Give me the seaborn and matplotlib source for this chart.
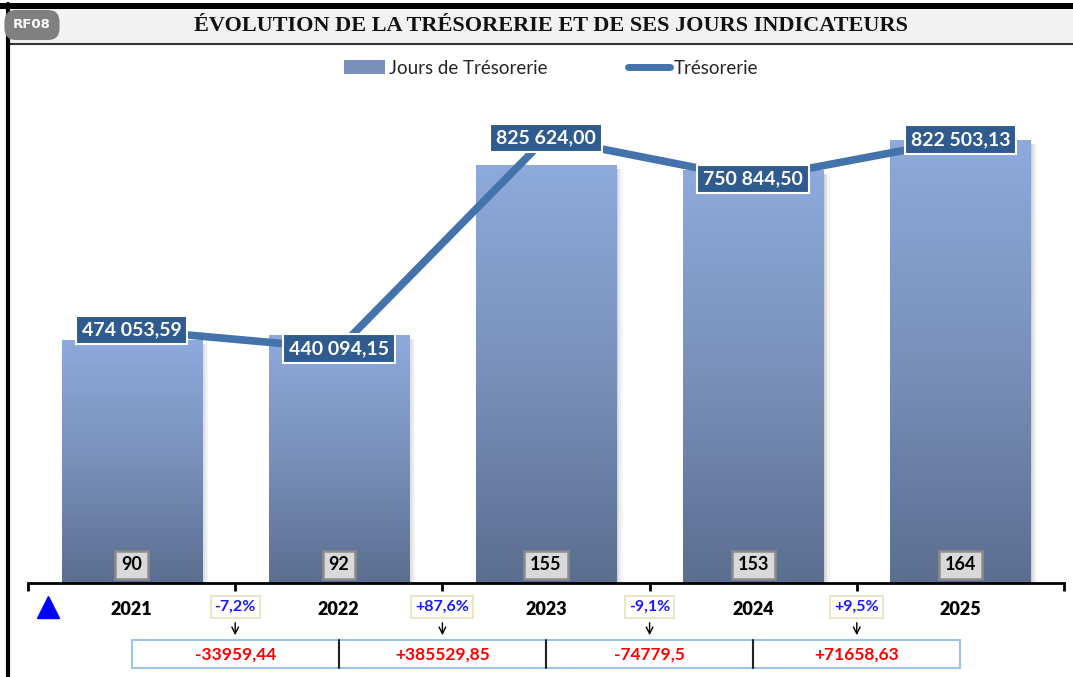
import numpy as np
import pandas as pd
import seaborn as sns
from matplotlib import pyplot as plt
from matplotlib import transforms
from matplotlib.colors import LinearSegmentedColormap
from matplotlib.lines import Line2D
from matplotlib.patches import Patch, Rectangle

years = ["2021", "2022", "2023", "2024", "2025"]
jours = [90, 92, 155, 153, 164]
tresorerie = [474053.59, 440094.15, 825624.00, 750844.50, 822503.13]

TITLE = "ÉVOLUTION DE LA TRÉSORERIE ET DE SES JOURS INDICATEURS"
BAR_TOP = "#8eaadc"
BAR_BOTTOM = "#5b6e90"
LINE_COLOR = "#4472aa"
LABEL_BG = "#2f5b8f"

sns.set_theme(style="white")
plt.rcParams["font.family"] = ["Lato", "DejaVu Sans"]

W, H = 1073, 677
fig = plt.figure(figsize=(W / 100, H / 100), dpi=100)


def fx(px):
    return px / W


def fy(py):
    return 1 - py / H


# ---- frame and title band
fig.add_artist(Rectangle((fx(8), fy(44)), fx(W - 8), fy(9) - fy(44),
                         transform=fig.transFigure, facecolor="#f2f2f2",
                         edgecolor="none"))
fig.add_artist(Rectangle((0, fy(9)), 1, fy(3) - fy(9), transform=fig.transFigure,
                         facecolor="black", edgecolor="none"))
fig.add_artist(Line2D([fx(8), 1], [fy(44), fy(44)], transform=fig.transFigure,
                      color="#333333", lw=1.5))
fig.add_artist(Line2D([fx(8), fx(8)], [0, fy(4)], transform=fig.transFigure,
                      color="black", lw=3))
fig.text(fx(32), fy(25), "RF08", color="white", fontsize=9.5, fontweight="bold",
         ha="center", va="center", family=["Liberation Sans Narrow", "DejaVu Sans"],
         bbox=dict(boxstyle="round,pad=0.65,rounding_size=0.9",
                   facecolor="#808080", edgecolor="none"))
fig.text(fx(551), fy(26), TITLE, fontsize=16, fontweight="bold", ha="center",
         va="center", family=["Liberation Serif", "DejaVu Serif"], color="#111111")

# ---- main axes
ax = fig.add_axes([fx(28), fy(583), fx(1064) - fx(28), fy(97) - fy(583)])
df = pd.DataFrame({"annee": years, "jours": jours})
sns.barplot(data=df, x="annee", y="jours", ax=ax, width=0.676, color=BAR_TOP,
            saturation=1, zorder=2)

cmap = LinearSegmentedColormap.from_list("bar", [BAR_BOTTOM, "#7890ba", BAR_TOP])
grad = np.linspace(0, 1, 256).reshape(-1, 1)
for p in list(ax.patches):
    x0, w, h = p.get_x(), p.get_width(), p.get_height()
    im = ax.imshow(grad, extent=[x0, x0 + w, 0, h], origin="lower", cmap=cmap,
                   aspect="auto", zorder=2)
    im.set_clip_path(p)
    p.set_facecolor("none")
    p.set_edgecolor("none")
    # soft shadow on the right side
    for k, a in enumerate([0.28, 0.18, 0.10, 0.05]):
        ax.add_patch(Rectangle((x0 + w + k * 0.008, 0), 0.008, h - 1.5,
                               facecolor="#555555", alpha=a, edgecolor="none",
                               zorder=1.5))

ax.set_xlim(-0.5, len(years) - 0.5)
ax.set_ylim(0, 180)
ax.set_ylabel("")
ax.set_xlabel("")
ax.set_yticks([])
for s in ["top", "right", "left"]:
    ax.spines[s].set_visible(False)
ax.spines["bottom"].set_linewidth(2)
ax.spines["bottom"].set_color("black")
ax.set_xticks(range(len(years)), years)
ax.set_xticks(np.arange(-0.5, len(years), 1), minor=True)
ax.tick_params(axis="x", which="major", length=0, pad=13, labelsize=13,
               labelcolor="black")
ax.tick_params(axis="x", which="minor", length=6, width=2, color="black",
               direction="out", bottom=True)
for t in ax.get_xticklabels():
    t.set_fontweight("heavy")
ax.patch.set_alpha(0)

# day labels in little grey buttons
for i, v in enumerate(jours):
    ax.annotate(str(v), xy=(i, 0), xytext=(0, 18), textcoords="offset pixels",
                ha="center", va="center", fontsize=13, fontweight="bold",
                color="black", zorder=5,
                bbox=dict(boxstyle="square,pad=0.32", facecolor="#d9d9d9",
                          edgecolor="#8c8c8c", lw=1.8))

# ---- treasury line
ax2 = ax.twinx()
idx = np.arange(len(years))
sns.lineplot(x=idx, y=tresorerie, ax=ax2, color=LINE_COLOR, lw=5.5, zorder=3)
ax2.set_ylim(10785, 900700)
ax2.set_xlim(-0.5, len(years) - 0.5)
ax2.axis("off")


def fmt_fr(v):
    return f"{v:,.2f}".replace(",", " ").replace(".", ",")


for i, v in enumerate(tresorerie):
    ax2.text(i, v, fmt_fr(v), ha="center", va="center", color="white",
             fontsize=14, fontweight="bold", zorder=6,
             bbox=dict(boxstyle="square,pad=0.3", facecolor=LABEL_BG,
                       edgecolor="white", lw=1.5))

# ---- variations under the axis
blend = transforms.blended_transform_factory(ax.transData, fig.transFigure)
for i in range(len(years) - 1):
    a, b = tresorerie[i], tresorerie[i + 1]
    pct = (b - a) / a * 100
    delta = b - a
    pct_txt = f"{pct:+.1f}%".replace(".", ",")
    d_txt = f"{delta:+.2f}".rstrip("0").rstrip(".").replace(".", ",")
    xm = i + 0.5
    ax.text(xm, fy(607), pct_txt, transform=blend, ha="center", va="center",
            color="#1a1aff", fontsize=11.5, fontweight="bold",
            bbox=dict(boxstyle="square,pad=0.25", facecolor="white",
                      edgecolor="#ece6c8", lw=1.5))
    ax.annotate("", xy=(xm, fy(638)), xytext=(xm, fy(620)), xycoords=blend,
                textcoords=blend, annotation_clip=False,
                arrowprops=dict(arrowstyle="->", color="black", lw=1))
    ax.add_artist(Rectangle((i, fy(668)), 1, fy(640) - fy(668), transform=blend,
                            facecolor="white", edgecolor="#9dc3e6", lw=1.5,
                            clip_on=False, zorder=2))
    ax.text(xm, fy(655), d_txt, transform=blend, ha="center", va="center",
            color="#ff0000", fontsize=12.5, fontweight="bold", zorder=3)
for i in range(1, len(years) - 1):
    ax.add_artist(Line2D([i, i], [fy(668), fy(640)], transform=blend,
                         color="#222222", lw=1.5, clip_on=False, zorder=3))

fig.add_artist(Line2D([fx(48)], [fy(607)], transform=fig.transFigure, marker="^",
                      markersize=16, color="#0000ff", linestyle="none"))

# ---- legend
bar_handle = Patch(facecolor="#7890ba", edgecolor="none")
line_handle = Line2D([], [], color=LINE_COLOR, lw=5)
fig.legend([bar_handle, line_handle], ["Jours de Trésorerie", "Trésorerie"],
           loc="center", bbox_to_anchor=(fx(551), fy(68)), ncol=2, frameon=False,
           fontsize=13.5, columnspacing=4.3, handlelength=2.2, handletextpad=0.2)

fig.savefig("out.png", dpi=100)
